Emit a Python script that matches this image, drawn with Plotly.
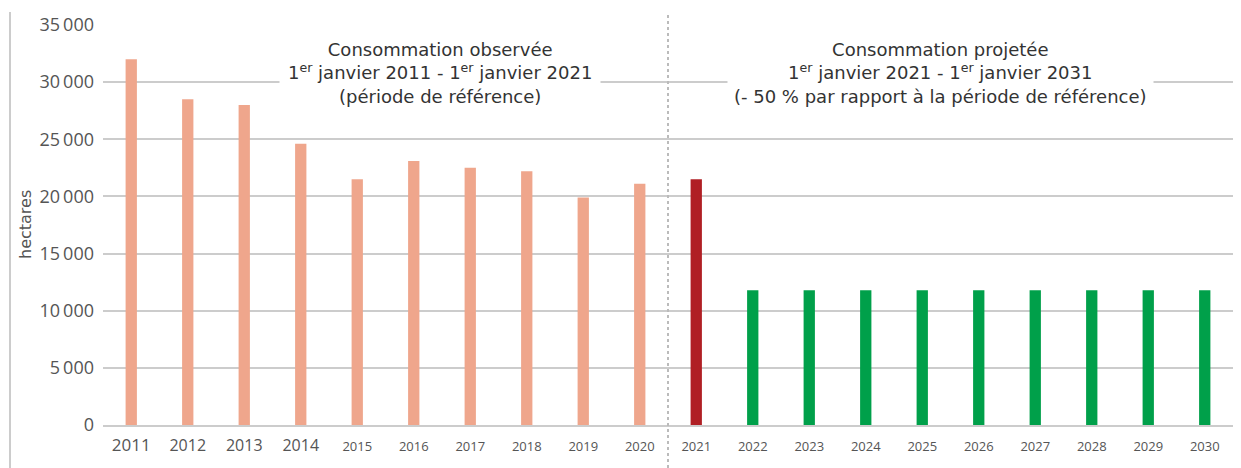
import plotly.graph_objects as go

years = [str(y) for y in range(2011, 2031)]
values = [32000, 28500, 28000, 24600, 21500, 23100, 22500, 22200, 19900, 21100,
          21500, 11800, 11800, 11800, 11800, 11800, 11800, 11800, 11800, 11800]
bar_colors = ["#EFA68C"] * 10 + ["#B01F24"] + ["#00A04A"] * 9
tick_sizes = [17, 16, 16, 16] + [13] * 16
y_ticks = [0, 5000, 10000, 15000, 20000, 25000, 30000, 35000]
y_ticktext = ["0", "5\u2009000", "10\u2009000", "15\u2009000", "20\u2009000",
              "25\u2009000", "30\u2009000", "35\u2009000"]
ann_observed = "Consommation observée<br>1<sup>er</sup> janvier 2011 - 1<sup>er</sup> janvier 2021<br>(période de référence)"
ann_projected = "Consommation projetée<br>1<sup>er</sup> janvier 2021 - 1<sup>er</sup> janvier 2031<br>(- 50 % par rapport à la période de référence)"

FONT = "Open Sans"
FONT2 = "DejaVu Sans"
# page body has an 8px margin: figure is sized/offset to compensate
OFF = 8
W, H = 1241 - OFF, 468 - OFF
L, R, T, B = 103 - OFF, 8, 25 - OFF, 43
pw = W - L - R
ph = H - T - B

fig = go.Figure()
fig.add_trace(go.Bar(x=years, y=values, marker=dict(color=bar_colors, line=dict(width=0)),
                     width=0.2, showlegend=False))

ticktext = [f'<span style="font-size:{s}px">{y}</span>' for y, s in zip(years, tick_sizes)]

fig.update_layout(
    width=W, height=H,
    margin=dict(l=L, r=R, t=T, b=B, autoexpand=False),
    paper_bgcolor="white", plot_bgcolor="white",
    font=dict(family=FONT, color="#555555"),
    xaxis=dict(type="category", tickmode="array", tickvals=years, ticktext=ticktext,
               tickfont=dict(size=13, color="#555555"), showgrid=False,
               showline=True, linecolor="#cccccc", linewidth=2, ticks="",
               ticklabelstandoff=8, range=[-0.5, 19.5], automargin=False),
    yaxis=dict(range=[0, 35000], tickmode="array", tickvals=y_ticks, ticktext=y_ticktext,
               tickfont=dict(size=18, color="#555555"), showgrid=True,
               gridcolor="#cccccc", gridwidth=2, zeroline=False, showline=False,
               ticks="", ticklabelstandoff=8, automargin=False),
)

fig.add_annotation(text=ann_observed, x=5.47, y=30800, xref="x", yref="y",
                   showarrow=False, font=dict(size=18, color="#333333", family=FONT2),
                   bgcolor="white", borderpad=8, align="center",
                   xanchor="center", yanchor="middle")
fig.add_annotation(text=ann_projected, x=14.32, y=30800, xref="x", yref="y",
                   showarrow=False, font=dict(size=18, color="#333333", family=FONT2),
                   bgcolor="white", borderpad=6, align="center",
                   xanchor="center", yanchor="middle")

fig.add_annotation(text="hectares", textangle=-90, x=(25 - OFF - L) / pw,
                   y=(425 - 225) / ph,
                   xref="paper", yref="paper", showarrow=False,
                   xanchor="center", yanchor="middle",
                   font=dict(size=16, color="#555555", family=FONT2))

fig.add_shape(type="line", xref="x", yref="paper", x0=9.5, x1=9.5,
              y0=-B / ph, y1=(425 - 15) / ph,
              line=dict(color="#bbbbbb", width=2, dash="dot"))
fig.add_shape(type="line", xref="paper", yref="paper", x0=(10 - OFF - L) / pw,
              x1=(10 - OFF - L) / pw,
              y0=-B / ph, y1=(425 - 12) / ph,
              line=dict(color="#cccccc", width=2))

fig.write_html("out.html")
